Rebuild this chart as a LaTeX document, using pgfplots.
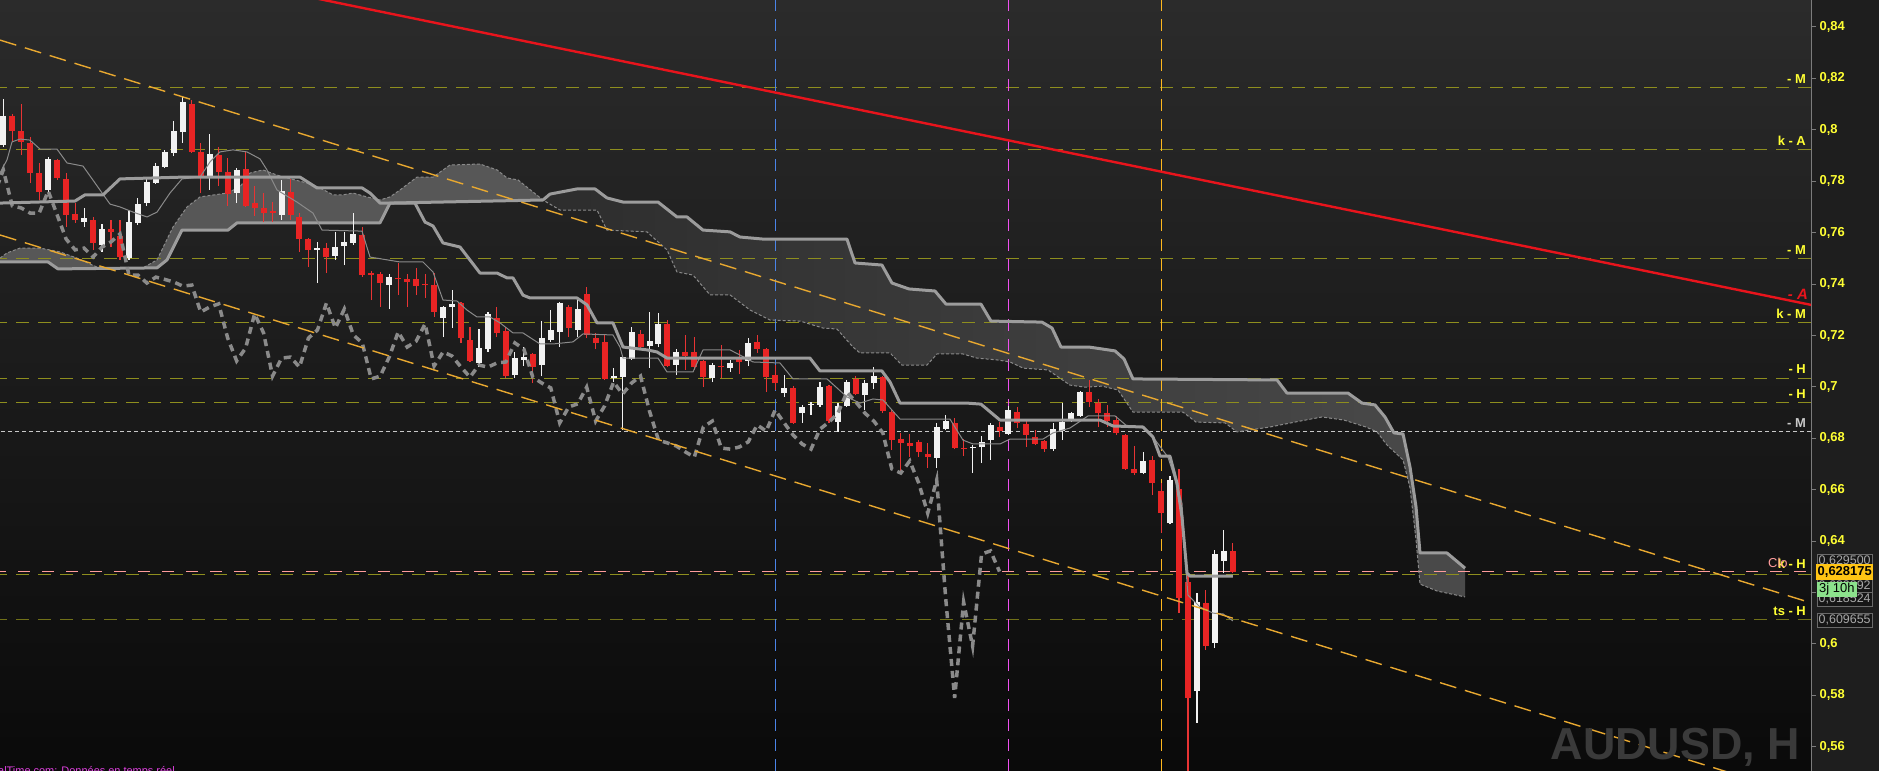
\documentclass[border=0pt]{standalone}
\usepackage{pgfplots}
\pgfplotsset{compat=1.18}
\usepackage{pgfplotstable}
\usepackage{fontspec}
\setmainfont{Liberation Sans}

\definecolor{bgtop}{HTML}{2B2B2B}
\definecolor{bgbot}{HTML}{0A0A0A}
\definecolor{panel}{HTML}{1E1E1E}
\definecolor{axisgray}{HTML}{7C7C7C}
\definecolor{olive}{HTML}{8E8E1E}
\definecolor{ticky}{HTML}{FFFF33}
\definecolor{candlered}{HTML}{E82424}
\definecolor{wickred}{HTML}{E83434}
\definecolor{candlewhite}{HTML}{F2F2F2}
\definecolor{ichi}{HTML}{9C9C9C}
\definecolor{ichithin}{HTML}{8A8A8A}
\definecolor{cloudlight}{HTML}{575757}
\definecolor{clouddarkL}{HTML}{2D2D2D}
\definecolor{clouddarkR}{HTML}{4A4A4A}
\definecolor{chan}{HTML}{E8A830}
\definecolor{trend}{HTML}{E8141C}
\definecolor{vblue}{HTML}{4A84E8}
\definecolor{vmag}{HTML}{F050F0}
\definecolor{vorange}{HTML}{FFB81E}
\definecolor{closepink}{HTML}{FF9C9C}
\definecolor{silver}{HTML}{C8C8C8}
\definecolor{footer}{HTML}{E040E0}
\definecolor{boxfill}{HTML}{161616}
\definecolor{boxline}{HTML}{6A6A6A}
\definecolor{boxtext}{HTML}{A8A8A8}

% hourly AUDUSD bars: index, open, high, low, close
\pgfplotstableread{
i o h l c
0 0.7941 0.8120 0.7933 0.8054
1 0.8054 0.8062 0.7953 0.7995
2 0.7995 0.8100 0.7902 0.7953
3 0.7949 0.7972 0.7793 0.7832
4 0.7832 0.7871 0.7727 0.7758
5 0.7766 0.7894 0.7754 0.7887
6 0.7883 0.7887 0.7805 0.7813
7 0.7809 0.7832 0.7622 0.7669
8 0.7673 0.7715 0.7638 0.7649
9 0.7641 0.7696 0.7622 0.7657
10 0.7649 0.7661 0.7533 0.7560
11 0.7552 0.7634 0.7525 0.7614
12 0.7614 0.7649 0.7544 0.7603
13 0.7587 0.7649 0.7494 0.7505
14 0.7501 0.7688 0.7494 0.7641
15 0.7638 0.7735 0.7630 0.7711
16 0.7715 0.7816 0.7704 0.7797
17 0.7793 0.7871 0.7790 0.7859
18 0.7855 0.7922 0.7852 0.7914
19 0.7910 0.8034 0.7898 0.7995
20 0.7992 0.8128 0.7949 0.8108
21 0.8100 0.8116 0.7910 0.7914
22 0.7914 0.7949 0.7754 0.7816
23 0.7816 0.7984 0.7766 0.7906
24 0.7902 0.7933 0.7781 0.7836
25 0.7836 0.7890 0.7704 0.7750
26 0.7754 0.7852 0.7715 0.7844
27 0.7848 0.7914 0.7700 0.7704
28 0.7715 0.7781 0.7665 0.7696
29 0.7696 0.7754 0.7641 0.7676
30 0.7684 0.7719 0.7641 0.7676
31 0.7669 0.7805 0.7649 0.7762
32 0.7758 0.7809 0.7649 0.7669
33 0.7661 0.7676 0.7525 0.7575
34 0.7575 0.7579 0.7466 0.7533
35 0.7533 0.7564 0.7404 0.7540
36 0.7540 0.7560 0.7443 0.7505
37 0.7509 0.7603 0.7494 0.7544
38 0.7548 0.7603 0.7474 0.7564
39 0.7560 0.7676 0.7552 0.7595
40 0.7591 0.7622 0.7428 0.7435
41 0.7443 0.7451 0.7338 0.7435
42 0.7439 0.7447 0.7311 0.7404
43 0.7396 0.7439 0.7303 0.7427
44 0.7422 0.7482 0.7357 0.7418
45 0.7420 0.7439 0.7311 0.7408
46 0.7420 0.7462 0.7357 0.7392
47 0.7400 0.7439 0.7346 0.7396
48 0.7396 0.7443 0.7272 0.7291
49 0.7268 0.7315 0.7194 0.7311
50 0.7311 0.7377 0.7229 0.7323
51 0.7326 0.7330 0.7171 0.7190
52 0.7182 0.7233 0.7097 0.7101
53 0.7093 0.7225 0.7077 0.7151
54 0.7147 0.7291 0.7136 0.7284
55 0.7268 0.7311 0.7194 0.7210
56 0.7217 0.7233 0.7035 0.7042
57 0.7046 0.7136 0.7035 0.7112
58 0.7105 0.7155 0.7081 0.7116
59 0.7128 0.7132 0.7015 0.7077
60 0.7085 0.7256 0.7042 0.7190
61 0.7182 0.7299 0.7175 0.7221
62 0.7214 0.7330 0.7155 0.7326
63 0.7311 0.7319 0.7194 0.7229
64 0.7221 0.7342 0.7194 0.7303
65 0.7361 0.7389 0.7190 0.7202
66 0.7190 0.7210 0.7147 0.7171
67 0.7175 0.7202 0.7027 0.7031
68 0.7035 0.7073 0.7019 0.7042
69 0.7038 0.7120 0.6832 0.7116
70 0.7109 0.7233 0.7105 0.7214
71 0.7206 0.7221 0.7144 0.7155
72 0.7159 0.7291 0.7074 0.7178
73 0.7167 0.7287 0.7155 0.7245
74 0.7245 0.7260 0.7077 0.7081
75 0.7085 0.7147 0.7046 0.7136
76 0.7136 0.7202 0.7066 0.7120
77 0.7136 0.7194 0.7066 0.7077
78 0.7101 0.7105 0.6999 0.7038
79 0.7035 0.7093 0.7019 0.7085
80 0.7081 0.7163 0.7035 0.7077
81 0.7073 0.7105 0.7058 0.7093
82 0.7109 0.7144 0.7050 0.7097
83 0.7101 0.7190 0.7081 0.7171
84 0.7175 0.7202 0.7132 0.7147
85 0.7147 0.7151 0.6980 0.7038
86 0.7046 0.7085 0.6988 0.7015
87 0.6976 0.7046 0.6961 0.6996
88 0.6996 0.7003 0.6856 0.6860
89 0.6898 0.6930 0.6860 0.6922
90 0.6930 0.6941 0.6891 0.6934
91 0.6930 0.7019 0.6922 0.6999
92 0.7003 0.7007 0.6860 0.6867
93 0.6863 0.6937 0.6825 0.6926
94 0.6926 0.7027 0.6922 0.7019
95 0.7031 0.7042 0.6968 0.6972
96 0.6968 0.7027 0.6910 0.7015
97 0.7015 0.7077 0.6992 0.7042
98 0.7038 0.7042 0.6899 0.6906
99 0.6902 0.6910 0.6755 0.6793
100 0.6797 0.6821 0.6665 0.6782
101 0.6782 0.6817 0.6727 0.6770
102 0.6786 0.6793 0.6727 0.6747
103 0.6739 0.6782 0.6684 0.6727
104 0.6723 0.6860 0.6684 0.6844
105 0.6836 0.6891 0.6832 0.6867
106 0.6860 0.6879 0.6758 0.6762
107 0.6762 0.6797 0.6731 0.6758
108 0.6762 0.6774 0.6665 0.6766
109 0.6766 0.6809 0.6704 0.6786
110 0.6793 0.6860 0.6716 0.6852
111 0.6844 0.6863 0.6805 0.6828
112 0.6817 0.6926 0.6813 0.6910
113 0.6902 0.6922 0.6840 0.6860
114 0.6856 0.6871 0.6766 0.6813
115 0.6805 0.6832 0.6774 0.6778
116 0.6790 0.6793 0.6747 0.6758
117 0.6758 0.6860 0.6751 0.6836
118 0.6828 0.6937 0.6793 0.6863
119 0.6871 0.6902 0.6863 0.6898
120 0.6887 0.6984 0.6883 0.6980
121 0.6980 0.7027 0.6922 0.6941
122 0.6937 0.6953 0.6844 0.6898
123 0.6898 0.6930 0.6844 0.6867
124 0.6871 0.6887 0.6813 0.6821
125 0.6813 0.6817 0.6677 0.6681
126 0.6681 0.6770 0.6657 0.6665
127 0.6665 0.6747 0.6660 0.6712
128 0.6716 0.6731 0.6579 0.6626
129 0.6595 0.6626 0.6432 0.6509
130 0.6470 0.6653 0.6465 0.6638
131 0.6603 0.6681 0.6120 0.6179
132 0.6241 0.6268 0.5490 0.5790
133 0.5817 0.6198 0.5693 0.6163
134 0.6159 0.6210 0.5977 0.5992
135 0.6004 0.6366 0.5984 0.6350
136 0.6323 0.6443 0.6276 0.6362
137 0.6362 0.6393 0.6276 0.628175
}\candles

% Tenkan-sen (conversion line)
\pgfplotstableread{
i v
-0.37 0.7832
0.41 0.7883
0.97 0.7953
1.86 0.7964
2.97 0.7960
4.09 0.7925
5.98 0.7925
7.10 0.7871
8.88 0.7859
10.77 0.7766
11.89 0.7711
13.00 0.7700
14.45 0.7680
16.01 0.7661
17.13 0.7680
18.57 0.7754
19.91 0.7809
21.92 0.7816
23.03 0.7875
24.14 0.7914
25.59 0.7922
27.15 0.7914
28.60 0.7887
29.38 0.7844
30.49 0.7766
32.72 0.7719
34.51 0.7676
35.51 0.7610
39.97 0.7606
40.86 0.7505
44.20 0.7486
46.76 0.7486
47.88 0.7447
48.99 0.7338
50.55 0.7334
51.66 0.7299
52.78 0.7272
54.23 0.7272
55.34 0.7249
56.79 0.7210
57.90 0.7210
59.80 0.7167
61.25 0.7167
63.47 0.7175
64.59 0.7206
67.93 0.7202
68.71 0.7155
69.05 0.7112
72.95 0.7112
73.95 0.7058
76.85 0.7058
77.96 0.7144
80.97 0.7144
82.08 0.7124
83.53 0.7097
86.54 0.7093
87.99 0.7031
91.78 0.7031
94.00 0.6961
95.45 0.6937
96.90 0.6953
98.02 0.6949
99.91 0.6875
105.48 0.6875
106.93 0.6793
108.05 0.6778
111.05 0.6778
112.17 0.6797
115.84 0.6797
116.96 0.6821
118.85 0.6840
120.86 0.6887
123.87 0.6887
125.20 0.6848
126.99 0.6840
128.10 0.6805
129.77 0.6727
130.33 0.6665
131.33 0.6548
131.89 0.6237
132.00 0.6190
133.34 0.6144
134.79 0.6120
135.90 0.6117
137.00 0.6090
}\tenkan

% Kijun-sen (base line)
\pgfplotstableread{
i v
-0.37 0.7715
7.99 0.7723
9.10 0.7747
11.11 0.7747
13.00 0.7809
20.02 0.7816
33.06 0.7816
34.95 0.7774
39.97 0.7774
40.86 0.7754
41.97 0.7715
45.87 0.7715
46.99 0.7641
47.88 0.7626
48.99 0.7560
50.89 0.7544
53.11 0.7443
55.01 0.7443
56.12 0.7424
56.79 0.7424
57.90 0.7357
58.68 0.7346
63.92 0.7346
65.04 0.7319
66.15 0.7249
67.93 0.7249
69.05 0.7155
71.72 0.7144
72.83 0.7136
73.95 0.7112
89.88 0.7112
90.99 0.7062
97.90 0.7062
98.80 0.7019
99.91 0.6937
107.37 0.6937
108.93 0.6933
111.05 0.6871
122.19 0.6871
123.64 0.6848
126.99 0.6844
128.10 0.6805
128.88 0.6731
129.99 0.6731
130.77 0.6626
131.33 0.6494
131.89 0.6276
132.22 0.6264
137.00 0.6264
}\kijun

% Senkou span A (cloud edge, dashed)
\pgfplotstableread{
i v
-0.37 0.7501
0.41 0.7521
1.86 0.7540
4.09 0.7540
6.32 0.7525
8.21 0.7501
10.44 0.7466
11.89 0.7463
15.57 0.7463
17.13 0.7494
18.91 0.7622
20.47 0.7700
21.92 0.7739
24.93 0.7754
26.37 0.7778
27.49 0.7832
28.94 0.7844
30.49 0.7824
31.61 0.7813
33.84 0.7793
35.29 0.7774
36.73 0.7747
37.85 0.7747
38.96 0.7754
40.52 0.7739
41.97 0.7727
43.09 0.7739
44.20 0.7766
46.09 0.7816
47.88 0.7816
49.77 0.7863
53.11 0.7867
55.01 0.7844
56.12 0.7813
57.35 0.7805
60.13 0.7727
62.03 0.7688
66.15 0.7688
67.26 0.7610
71.72 0.7603
73.95 0.7533
75.06 0.7447
76.85 0.7435
78.74 0.7358
80.97 0.7358
83.20 0.7299
85.43 0.7260
88.77 0.7256
91.33 0.7229
92.89 0.7225
94.67 0.7155
95.45 0.7132
98.80 0.7132
100.13 0.7085
102.92 0.7085
104.03 0.7128
106.93 0.7128
108.49 0.7112
110.72 0.7105
112.17 0.7097
113.62 0.7073
116.40 0.7066
118.85 0.7007
120.52 0.6999
122.42 0.7003
124.20 0.6988
125.87 0.6902
131.44 0.6902
132.90 0.6863
136.13 0.6860
137.46 0.6825
141.13 0.6844
144.48 0.6867
146.93 0.6883
149.38 0.6871
151.83 0.6844
153.06 0.6825
154.17 0.6774
155.96 0.6716
156.74 0.6607
157.41 0.6405
157.85 0.6233
159.75 0.6206
162.87 0.6183
}\ssa

% Senkou span B (cloud edge, solid)
\pgfplotstableread{
i v
-0.37 0.7486
4.98 0.7486
6.09 0.7459
17.13 0.7463
18.24 0.7494
19.91 0.7610
25.04 0.7610
26.04 0.7638
41.97 0.7638
43.09 0.7715
60.13 0.7727
60.91 0.7750
63.92 0.7770
65.93 0.7770
67.26 0.7735
69.05 0.7719
72.95 0.7719
75.06 0.7661
76.18 0.7661
77.96 0.7610
80.97 0.7603
82.08 0.7583
84.64 0.7575
94.00 0.7575
94.90 0.7482
97.90 0.7474
99.02 0.7404
100.91 0.7381
103.81 0.7373
105.04 0.7322
108.93 0.7322
110.05 0.7256
115.73 0.7252
116.85 0.7229
117.85 0.7155
120.97 0.7155
123.87 0.7140
124.87 0.7109
125.87 0.7031
141.92 0.7027
143.03 0.6976
149.83 0.6976
151.39 0.6937
152.83 0.6930
153.95 0.6883
154.95 0.6821
155.96 0.6817
156.74 0.6688
157.41 0.6533
157.85 0.6354
160.86 0.6354
162.87 0.6295
}\ssb

% rising cloud: span A out, span B back
\pgfplotstableread{
i v
-0.37 0.7501
0.41 0.7521
1.86 0.7540
4.09 0.7540
6.32 0.7525
8.21 0.7501
10.44 0.7466
11.89 0.7463
15.57 0.7463
17.13 0.7494
18.91 0.7622
20.47 0.7700
21.92 0.7739
24.93 0.7754
26.37 0.7778
27.49 0.7832
28.94 0.7844
30.49 0.7824
31.61 0.7813
33.84 0.7793
35.29 0.7774
36.73 0.7747
37.85 0.7747
38.96 0.7754
40.52 0.7739
41.97 0.7727
43.09 0.7739
44.20 0.7766
46.09 0.7816
47.88 0.7816
49.77 0.7863
53.11 0.7867
55.01 0.7844
56.12 0.7813
57.35 0.7805
60.13 0.7727
43.09 0.7715
41.97 0.7638
26.04 0.7638
25.04 0.7610
19.91 0.7610
18.24 0.7494
17.13 0.7463
6.09 0.7459
4.98 0.7486
-0.37 0.7486
}\cloudup

% falling cloud: span A out, span B back
\pgfplotstableread{
i v
60.13 0.7727
62.03 0.7688
66.15 0.7688
67.26 0.7610
71.72 0.7603
73.95 0.7533
75.06 0.7447
76.85 0.7435
78.74 0.7358
80.97 0.7358
83.20 0.7299
85.43 0.7260
88.77 0.7256
91.33 0.7229
92.89 0.7225
94.67 0.7155
95.45 0.7132
98.80 0.7132
100.13 0.7085
102.92 0.7085
104.03 0.7128
106.93 0.7128
108.49 0.7112
110.72 0.7105
112.17 0.7097
113.62 0.7073
116.40 0.7066
118.85 0.7007
120.52 0.6999
122.42 0.7003
124.20 0.6988
125.87 0.6902
131.44 0.6902
132.90 0.6863
136.13 0.6860
137.46 0.6825
141.13 0.6844
144.48 0.6867
146.93 0.6883
149.38 0.6871
151.83 0.6844
153.06 0.6825
154.17 0.6774
155.96 0.6716
156.74 0.6607
157.41 0.6405
157.85 0.6233
159.75 0.6206
162.87 0.6183
162.87 0.6295
160.86 0.6354
157.85 0.6354
157.41 0.6533
156.74 0.6688
155.96 0.6817
154.95 0.6821
153.95 0.6883
152.83 0.6930
151.39 0.6937
149.83 0.6976
143.03 0.6976
141.92 0.7027
125.87 0.7031
124.87 0.7109
123.87 0.7140
120.97 0.7155
117.85 0.7155
116.85 0.7229
115.73 0.7252
110.05 0.7256
108.93 0.7322
105.04 0.7322
103.81 0.7373
100.91 0.7381
99.02 0.7404
97.90 0.7474
94.90 0.7482
94.00 0.7575
84.64 0.7575
82.08 0.7583
80.97 0.7603
77.96 0.7610
76.18 0.7661
75.06 0.7661
72.95 0.7719
69.05 0.7719
67.26 0.7735
65.93 0.7770
63.92 0.7770
60.91 0.7750
60.13 0.7727
}\clouddown

\pgfplotsset{
  hline/.style={forget plot, line width=1bp},
  candle/.style={only marks, mark=*, mark size=0.01pt,
    mark options={draw opacity=0, fill opacity=0}, forget plot,
    error bars/.cd, y dir=plus, y explicit, error mark=none,
    error bar style={draw=#1, solid, line cap=butt}},
}

\newcommand{\lab}{\fontsize{13}{15}\selectfont\bfseries}
\newcommand{\boxfont}{\fontsize{12.5}{14}\selectfont}

\begin{document}
\begin{tikzpicture}[x=1bp,y=1bp]
\shade[top color=bgtop, bottom color=bgbot] (0,0) rectangle (1811,771);
\fill[panel] (1811,0) rectangle (1879,771);

\begin{axis}[
  at={(0,0)}, anchor=south west,
  scale only axis, width=1811bp, height=771bp,
  xmin=-0.368, xmax=201.42, ymin=0.5506, ymax=0.8505,
  axis x line=none, axis y line*=right,
  axis line style={draw=axisgray, line width=1bp},
  tick align=outside, major tick length=5bp,
  tick style={draw=axisgray, line width=1bp},
  ytick={0.56,0.58,0.6,0.62,0.64,0.66,0.68,0.7,0.72,0.74,0.76,0.78,0.8,0.82,0.84},
  yticklabel style={font=\lab, text=ticky,
    /pgf/number format/.cd, fixed, precision=2, use comma, assume math mode=true},
]

% Ichimoku cloud
\addplot[forget plot, draw=none, fill=cloudlight] table[x=i,y=v]{\cloudup} -- cycle;
\addplot[forget plot, draw=none, left color=clouddarkL, right color=clouddarkR] table[x=i,y=v]{\clouddown} -- cycle;

% key horizontal levels
\addplot[hline, olive, dash pattern=on 13bp off 9bp] coordinates {(-1,0.8163) (202,0.8163)};
\addplot[hline, olive, dash pattern=on 13bp off 9bp] coordinates {(-1,0.7925) (202,0.7925)};
\addplot[hline, olive, dash pattern=on 13bp off 9bp] coordinates {(-1,0.7498) (202,0.7498)};
\addplot[hline, olive, dash pattern=on 13bp off 9bp] coordinates {(-1,0.7249) (202,0.7249)};
\addplot[hline, olive, dash pattern=on 13bp off 9bp] coordinates {(-1,0.7031) (202,0.7031)};
\addplot[hline, olive, dash pattern=on 13bp off 9bp] coordinates {(-1,0.6938) (202,0.6938)};
\addplot[hline, silver, dash pattern=on 4bp off 3bp] coordinates {(-1,0.6825) (202,0.6825)};
\addplot[hline, olive, dash pattern=on 13bp off 9bp] coordinates {(-1,0.6269) (202,0.6269)};
\addplot[hline, closepink, dash pattern=on 12bp off 12bp] coordinates {(-1,0.628175) (202,0.628175)};
\addplot[hline, olive!80!black, dash pattern=on 13bp off 9bp] coordinates {(-1,0.6097) (202,0.6097)};

% session separators
\addplot[hline, vblue, dash pattern=on 12bp off 8bp] coordinates {(86,0.5506) (86,0.8505)};
\addplot[hline, vmag, dash pattern=on 12bp off 8bp] coordinates {(112,0.5506) (112,0.8505)};
\addplot[hline, vorange, dash pattern=on 12bp off 8bp] coordinates {(129,0.5506) (129,0.8505)};

% cloud edges
\addplot[forget plot, draw=ichithin, line width=1bp, dash pattern=on 3bp off 2bp] table[x=i,y=v]{\ssa};
\addplot[forget plot, draw=ichi, line width=3bp, line join=round] table[x=i,y=v]{\ssb};

% wicks, low to high; bars of the other colour are moved off the chart
\addplot[candle=candlewhite, error bar style={line width=1.1bp}]
  table[x expr={\thisrow{c}>=\thisrow{o} ? \thisrow{i} : -50},
        y=l, y error expr={\thisrow{h}-\thisrow{l}}]{\candles};
\addplot[candle=wickred, error bar style={line width=1.1bp}]
  table[x expr={\thisrow{c}<\thisrow{o} ? \thisrow{i} : -50},
        y=l, y error expr={\thisrow{h}-\thisrow{l}}]{\candles};
% bodies, lower of open/close upwards
\addplot[candle=candlewhite, error bar style={line width=6bp}]
  table[x expr={\thisrow{c}>=\thisrow{o} ? \thisrow{i} : -50},
        y expr={min(\thisrow{o},\thisrow{c})},
        y error expr={max(abs(\thisrow{o}-\thisrow{c}),0.0004)}]{\candles};
\addplot[candle=candlered, error bar style={line width=6bp}]
  table[x expr={\thisrow{c}<\thisrow{o} ? \thisrow{i} : -50},
        y expr={min(\thisrow{o},\thisrow{c})},
        y error expr={max(abs(\thisrow{o}-\thisrow{c}),0.0004)}]{\candles};

% Chikou span: closes drawn 26 bars back
\addplot[forget plot, draw=ichithin, line width=3.5bp, dash pattern=on 7bp off 5bp] table[x expr=\thisrow{i}-26, y=c]{\candles};
% Tenkan and Kijun
\addplot[forget plot, draw=ichithin, line width=1bp, line join=round] table[x=i,y=v]{\tenkan};
\addplot[forget plot, draw=ichi, line width=3bp, line join=round] table[x=i,y=v]{\kijun};

% falling channel and long-term trend line
\addplot[forget plot, draw=chan, line width=1.4bp, dash pattern=on 17bp off 9bp] coordinates {(-0.368,0.8349) (201.42,0.6160)};
\addplot[forget plot, draw=chan, line width=1.4bp, dash pattern=on 17bp off 9bp] coordinates {(-0.368,0.7591) (201.42,0.5401)};
\addplot[forget plot, draw=trend, line width=2.4bp] coordinates {(10,0.8689) (201.42,0.7319)};
\end{axis}

% level labels
\node[anchor=east, text=ticky, font=\lab, inner sep=0] at (1806,692) {- M};
\node[anchor=east, text=ticky, font=\lab, inner sep=0] at (1806,630) {k - A};
\node[anchor=east, text=ticky, font=\lab, inner sep=0] at (1806,521) {- M};
\node[anchor=east, text=ticky, font=\lab, inner sep=0] at (1806,457) {k - M};
\node[anchor=east, text=ticky, font=\lab, inner sep=0] at (1806,402) {- H};
\node[anchor=east, text=ticky, font=\lab, inner sep=0] at (1806,377) {- H};
\node[anchor=east, text=silver, font=\lab, inner sep=0] at (1806,348) {- M};
\node[anchor=east, text=ticky, font=\lab, inner sep=0] at (1806,207) {k - H};
\node[anchor=west, text=closepink, font=\fontsize{13}{15}\selectfont, inner sep=0] at (1768,208) {Clo};
\node[anchor=east, text=ticky, font=\lab, inner sep=0] at (1806,160) {ts - H};
\node[anchor=east, text=trend, font=\fontsize{15}{17}\selectfont\bfseries\itshape, inner sep=0] at (1808,477) {- A};

% price boxes on the scale
\node[anchor=west, draw=boxline, fill=boxfill, text=boxtext, font=\boxfont, inner xsep=1.5bp, inner ysep=0.5bp, minimum height=13bp] at (1817,210) {0,629500};
\node[anchor=west, draw=boxline, fill=boxfill, text=boxtext, font=\boxfont, inner xsep=1.5bp, inner ysep=0.5bp, minimum height=13bp] at (1817,185) {0,622892};
\node[anchor=west, draw=boxline, fill=boxfill, text=boxtext, font=\boxfont, inner xsep=1.5bp, inner ysep=0.5bp, minimum height=14bp] at (1817,172) {0,618524};
\node[anchor=west, draw=boxline, fill=boxfill, text=boxtext, font=\boxfont, inner xsep=1.5bp, inner ysep=0.5bp, minimum height=14bp] at (1817,151) {0,609655};
\node[anchor=west, fill={rgb,255:red,255;green,196;blue,20}, text=black, font=\fontsize{13}{15}\selectfont\bfseries, inner xsep=1.5bp, inner ysep=0bp, minimum height=16bp] at (1816,199) {0,628175};
\node[anchor=west, fill={rgb,255:red,140;green,226;blue,140}, text=black, font=\fontsize{13}{15}\selectfont, inner xsep=2bp, inner ysep=0bp, minimum height=15bp] at (1817,181.5) {3j 10h};

% instrument watermark and data source line
\node[anchor=base east, text={rgb,255:red,58;green,58;blue,58}, font=\fontsize{45}{50}\selectfont\bfseries, inner sep=0] at (1800,11) {AUDUSD, H};
\node[anchor=base east, text=footer, font=\fontsize{11}{13}\selectfont, inner sep=0] at (175,-4) {ProRealTime.com: Données en temps réel};

\pgfresetboundingbox
\useasboundingbox (0,0) rectangle (1879,771);
\end{tikzpicture}
\end{document}
